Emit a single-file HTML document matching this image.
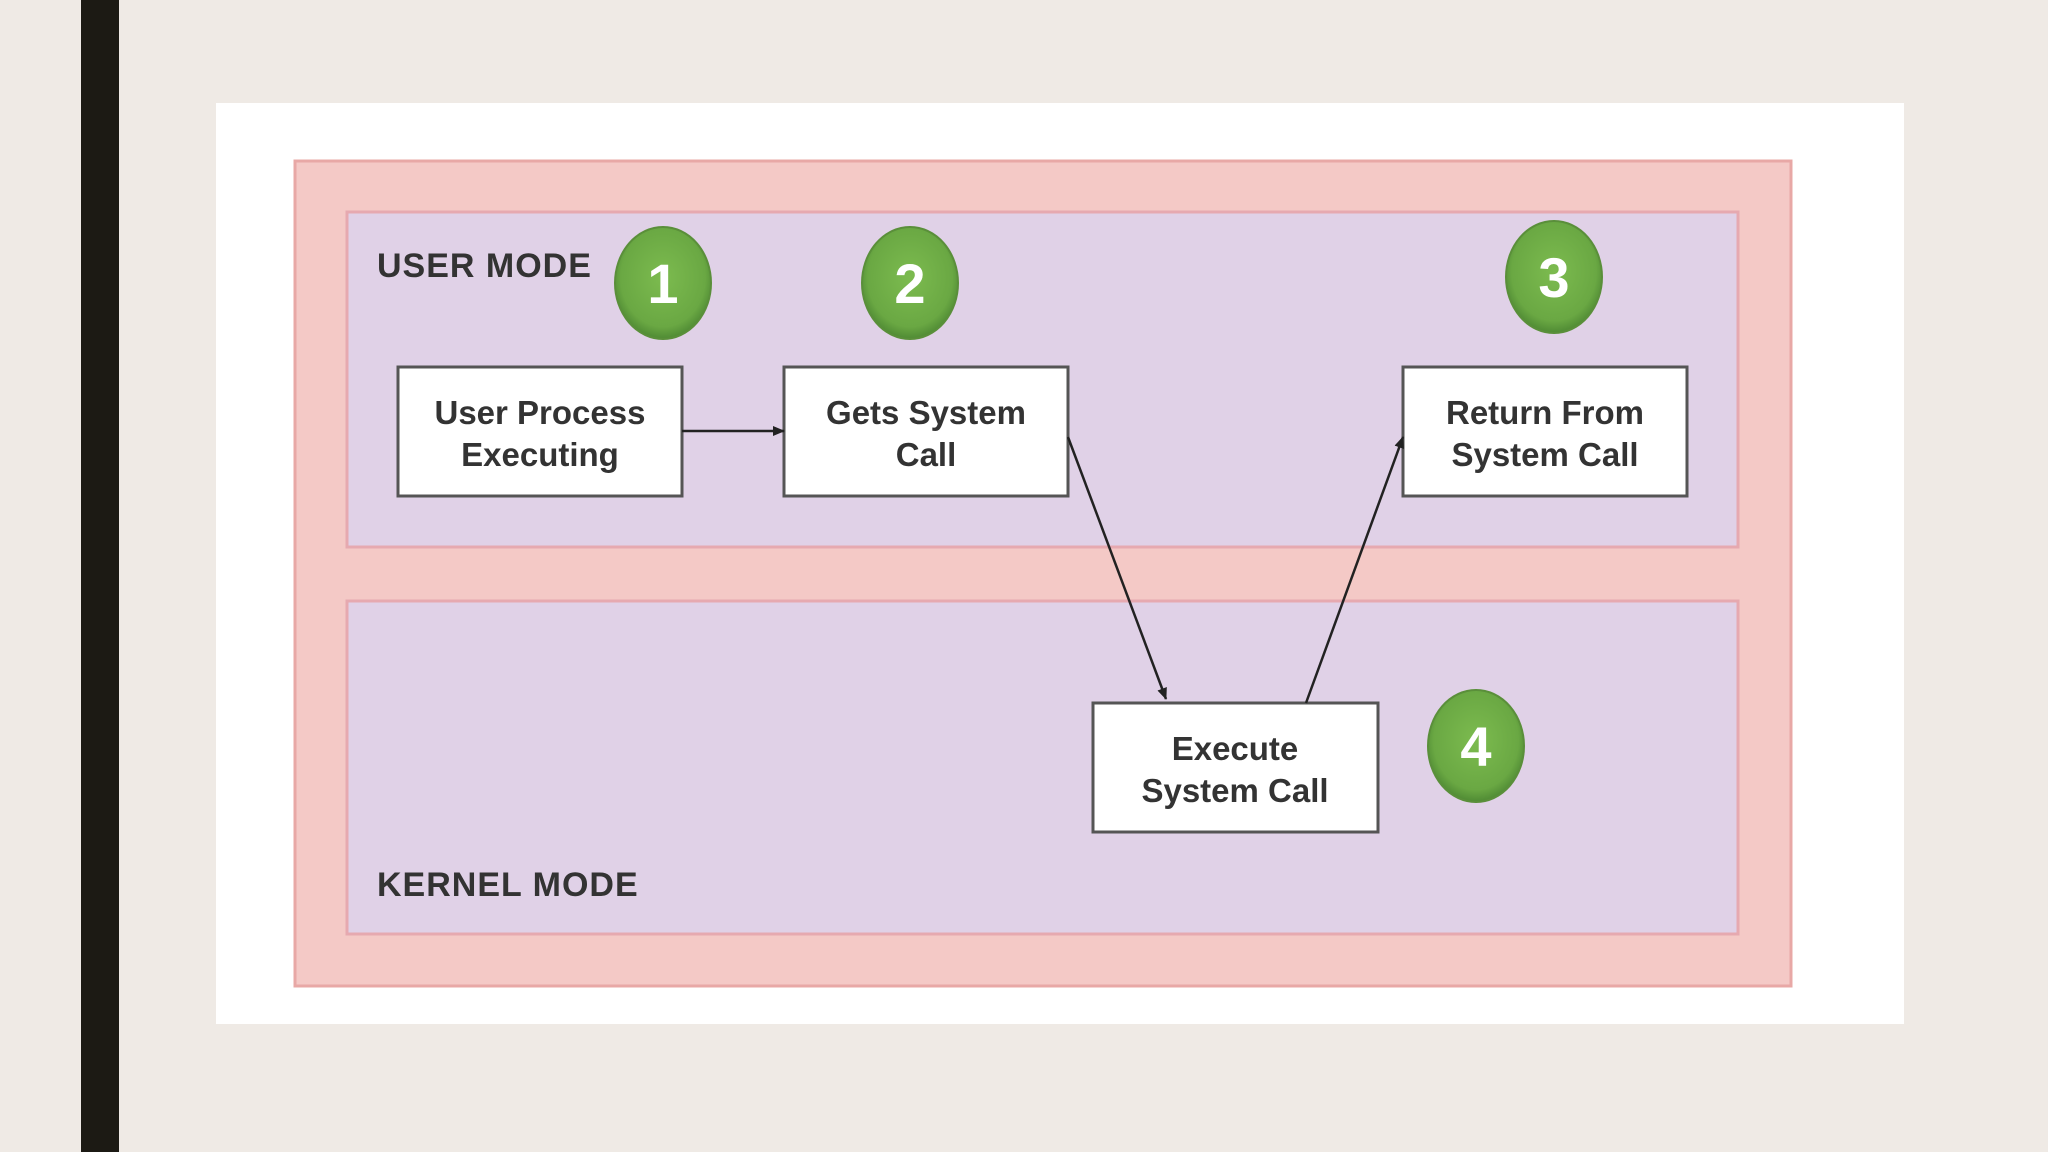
<!DOCTYPE html>
<html><head><style>
body{margin:0;width:2048px;height:1152px;background:#efeae5;overflow:hidden;font-family:"Liberation Sans",sans-serif}
</style></head><body>
<svg width="2048" height="1152" xmlns="http://www.w3.org/2000/svg" style="position:absolute;left:0;top:0">
<defs><marker id="a" markerWidth="12" markerHeight="12" refX="11" refY="6" orient="auto" markerUnits="userSpaceOnUse"><path d="M0,1 L12,6 L0,11 Z" fill="#222"/></marker>
<radialGradient id="g" cx="50%" cy="45%" r="55%"><stop offset="0" stop-color="#7cbb4f"/><stop offset="0.8" stop-color="#6aa843"/><stop offset="1" stop-color="#4f8a34"/></radialGradient></defs>
<rect x="81" y="0" width="38" height="1152" fill="#1c1a14"/>
<rect x="216" y="103" width="1688" height="921" fill="#ffffff"/>
<rect x="295" y="161" width="1496" height="825" fill="#f4c9c6" stroke="#e8a8a6" stroke-width="3"/>
<rect x="347" y="212" width="1391" height="335" fill="#e0d1e7" stroke="#e6a9b0" stroke-width="3"/>
<rect x="347" y="601" width="1391" height="333" fill="#e0d1e7" stroke="#e6a9b0" stroke-width="3"/>
<g font-weight="bold" font-size="34" fill="#333" letter-spacing="1">
<text x="377" y="277">USER MODE</text>
<text x="377" y="896">KERNEL MODE</text>
</g>
<g fill="#fff" stroke="#555" stroke-width="3">
<rect x="398" y="367" width="284" height="129"/>
<rect x="784" y="367" width="284" height="129"/>
<rect x="1403" y="367" width="284" height="129"/>
<rect x="1093" y="703" width="285" height="129"/>
</g>
<g font-weight="bold" font-size="33" fill="#333" text-anchor="middle">
<text x="540" y="424">User Process</text><text x="540" y="466">Executing</text>
<text x="926" y="424">Gets System</text><text x="926" y="466">Call</text>
<text x="1545" y="424">Return From</text><text x="1545" y="466">System Call</text>
<text x="1235" y="760">Execute</text><text x="1235" y="802">System Call</text>
</g>
<g stroke="#222" stroke-width="2.5" fill="none" marker-end="url(#a)">
<line x1="682" y1="431" x2="784" y2="431"/>
<line x1="1068" y1="437" x2="1166" y2="699"/>
<line x1="1306" y1="703" x2="1403" y2="437"/>
</g>
<g fill="url(#g)" stroke="#5a8f3a" stroke-width="2">
<ellipse cx="663" cy="283" rx="48" ry="56"/>
<ellipse cx="910" cy="283" rx="48" ry="56"/>
<ellipse cx="1554" cy="277" rx="48" ry="56"/>
<ellipse cx="1476" cy="746" rx="48" ry="56"/>
</g>
<g font-weight="bold" font-size="56" fill="#fff" text-anchor="middle">
<text x="663" y="303">1</text><text x="910" y="303">2</text>
<text x="1554" y="297">3</text><text x="1476" y="766">4</text>
</g>
</svg>
</body></html>
